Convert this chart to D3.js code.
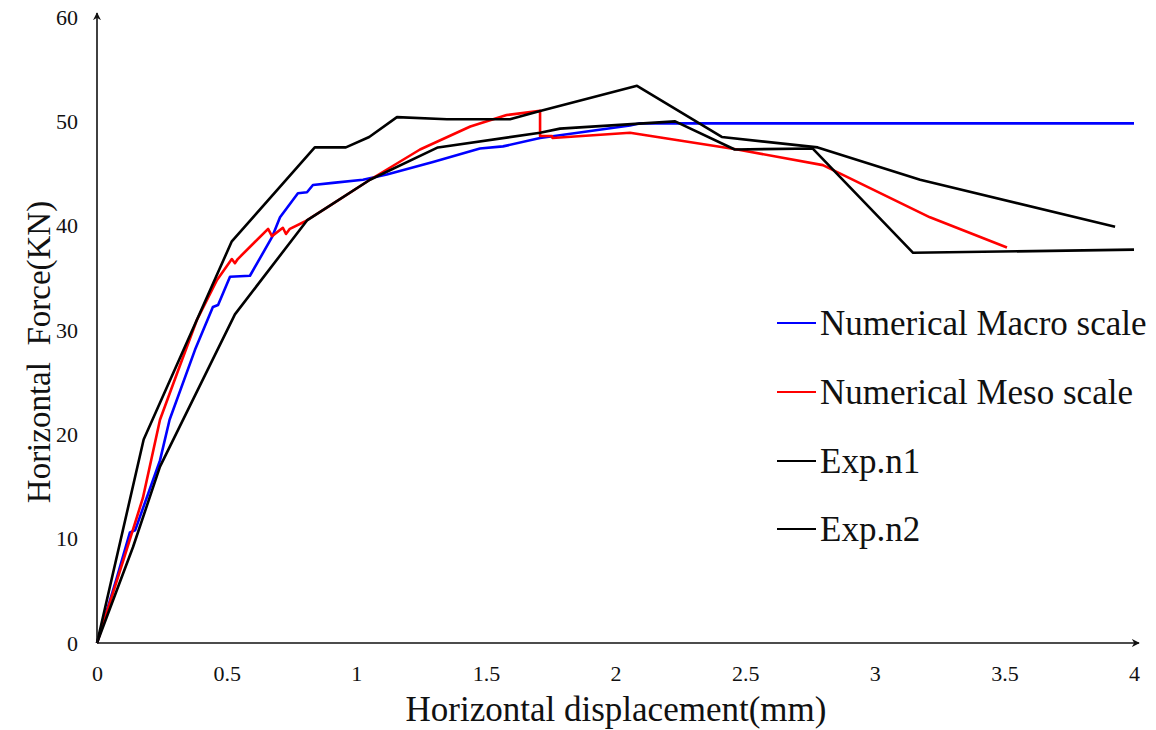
<!DOCTYPE html>
<html>
<head>
<meta charset="utf-8">
<script src="https://cdn.jsdelivr.net/npm/d3@7"></script>
<style>
  html, body { margin: 0; padding: 0; background: #fff; }
  svg { display: block; font-family: "Liberation Serif", "Times New Roman", serif; }
</style>
</head>
<body>
<svg id="chart" width="1156" height="730"></svg>
<script>
// Force–displacement curves (displacement in mm, force in kN)
const macroX = [0, 0.077, 0.127, 0.147, 0.243, 0.28, 0.378, 0.447, 0.467, 0.513, 0.59, 0.62, 0.675, 0.706, 0.775, 0.81, 0.833, 0.91, 1.026, 1.118, 1.296, 1.477, 1.566, 1.709, 2.056, 2.09, 4.0];
const macroY = [0, 6.3, 10.6, 10.8, 17.5, 21.4, 28.1, 32.2, 32.4, 35.1, 35.2, 36.5, 38.9, 40.8, 43.1, 43.2, 43.9, 44.1, 44.4, 44.9, 46.1, 47.4, 47.6, 48.4, 49.6, 49.8, 49.8];

const mesoX = [0, 0.1, 0.177, 0.243, 0.32, 0.386, 0.463, 0.52, 0.532, 0.543, 0.66, 0.675, 0.717, 0.729, 0.744, 0.802, 0.891, 1.053, 1.246, 1.44, 1.58, 1.709, 1.709, 1.755, 1.757, 2.056, 2.47, 2.8, 3.213, 3.51];
const mesoY = [0, 7.8, 13.9, 21.4, 26.6, 31.0, 34.8, 36.8, 36.4, 36.8, 39.7, 39.0, 39.8, 39.2, 39.7, 40.4, 41.8, 44.4, 47.3, 49.5, 50.6, 51.0, 48.6, 48.6, 48.4, 48.9, 47.3, 45.8, 40.8, 37.9];

const exp1X = [0, 0.18, 0.52, 0.84, 0.96, 1.05, 1.157, 1.35, 1.593, 1.709, 2.083, 2.41, 2.78, 3.175, 3.927];
const exp1Y = [0, 19.5, 38.5, 47.5, 47.5, 48.5, 50.4, 50.2, 50.2, 51.0, 53.4, 48.5, 47.5, 44.4, 39.9];

const exp2X = [0, 0.139, 0.243, 0.532, 0.81, 1.053, 1.315, 1.709, 1.786, 2.23, 2.46, 2.76, 3.148, 4.0];
const exp2Y = [0, 9.2, 16.9, 31.5, 40.5, 44.4, 47.5, 48.9, 49.3, 50.0, 47.3, 47.4, 37.4, 37.7];

const xTicks = [0, 0.5, 1, 1.5, 2, 2.5, 3, 3.5, 4];
const yTicks = [0, 10, 20, 30, 40, 50, 60];

const seriesNames = ["Numerical Macro scale", "Numerical Meso scale", "Exp.n1", "Exp.n2"];
const seriesColors = ["#0000ff", "#ff0000", "#000000", "#000000"];

const series = [
  { name: seriesNames[0], color: seriesColors[0], pts: macroX.map((x, i) => [x, macroY[i]]) },
  { name: seriesNames[1], color: seriesColors[1], pts: mesoX.map((x, i) => [x, mesoY[i]]) },
  { name: seriesNames[2], color: seriesColors[2], pts: exp1X.map((x, i) => [x, exp1Y[i]]) },
  { name: seriesNames[3], color: seriesColors[3], pts: exp2X.map((x, i) => [x, exp2Y[i]]) }
];

const svg = d3.select("#chart");
const x = d3.scaleLinear().domain([0, 4]).range([97, 1134]);
const y = d3.scaleLinear().domain([0, 60]).range([643, 17]);

// arrowhead for the axes
svg.append("defs").append("marker")
  .attr("id", "arrow")
  .attr("viewBox", "0 0 10 10")
  .attr("refX", 9).attr("refY", 5)
  .attr("markerWidth", 8).attr("markerHeight", 8)
  .attr("markerUnits", "userSpaceOnUse")
  .attr("orient", "auto")
  .append("path")
  .attr("d", "M0,0 L10,5 L0,10 L3,5 Z")
  .attr("fill", "#111");

// curves
const line = d3.line().x(d => x(d[0])).y(d => y(d[1]));
svg.append("g").selectAll("path")
  .data(series)
  .join("path")
  .attr("d", d => line(d.pts))
  .attr("fill", "none")
  .attr("stroke", d => d.color)
  .attr("stroke-width", 2.6)
  .attr("stroke-linejoin", "round");

// axis lines with arrows
svg.append("line")
  .attr("x1", x(0)).attr("y1", y(0)).attr("x2", x(0)).attr("y2", 13)
  .attr("stroke", "#111").attr("stroke-width", 1.6)
  .attr("marker-end", "url(#arrow)");
svg.append("line")
  .attr("x1", x(0)).attr("y1", y(0)).attr("x2", 1139).attr("y2", y(0))
  .attr("stroke", "#111").attr("stroke-width", 1.6)
  .attr("marker-end", "url(#arrow)");

// tick labels
const gx = svg.append("g")
  .attr("transform", `translate(0,${y(0)})`)
  .call(d3.axisBottom(x).tickValues(xTicks).tickSize(0).tickPadding(22).tickFormat(d => String(d)));
gx.select(".domain").remove();
gx.selectAll("text").attr("font-size", 22).attr("font-family", "Liberation Serif, serif").attr("fill", "#111");

const gy = svg.append("g")
  .attr("transform", `translate(${x(0)},0)`)
  .call(d3.axisLeft(y).tickValues(yTicks).tickSize(0).tickPadding(19).tickFormat(d => String(d)));
gy.select(".domain").remove();
gy.selectAll("text").attr("font-size", 22).attr("font-family", "Liberation Serif, serif").attr("fill", "#111");

// axis titles
svg.append("text")
  .attr("x", 616).attr("y", 721)
  .attr("text-anchor", "middle")
  .attr("font-size", 35)
  .attr("fill", "#111")
  .text("Horizontal displacement(mm)");

svg.append("text")
  .attr("transform", "translate(50,352) rotate(-90)")
  .attr("text-anchor", "middle")
  .attr("font-size", 33)
  .attr("fill", "#111")
  .style("white-space", "pre")
  .attr("xml:space", "preserve")
  .text("Horizontal  Force(KN)");

// legend
const legendRows = [323, 392, 461, 529];
const lg = svg.append("g").selectAll("g")
  .data(series)
  .join("g")
  .attr("transform", (d, i) => `translate(777,${legendRows[i]})`);
lg.append("line")
  .attr("x1", 0).attr("x2", 39).attr("y1", 0).attr("y2", 0)
  .attr("stroke", d => d.color).attr("stroke-width", 2);
lg.append("text")
  .attr("x", 43).attr("y", 12)
  .attr("font-size", 35)
  .attr("fill", "#111")
  .text(d => d.name);
</script>
</body>
</html>
